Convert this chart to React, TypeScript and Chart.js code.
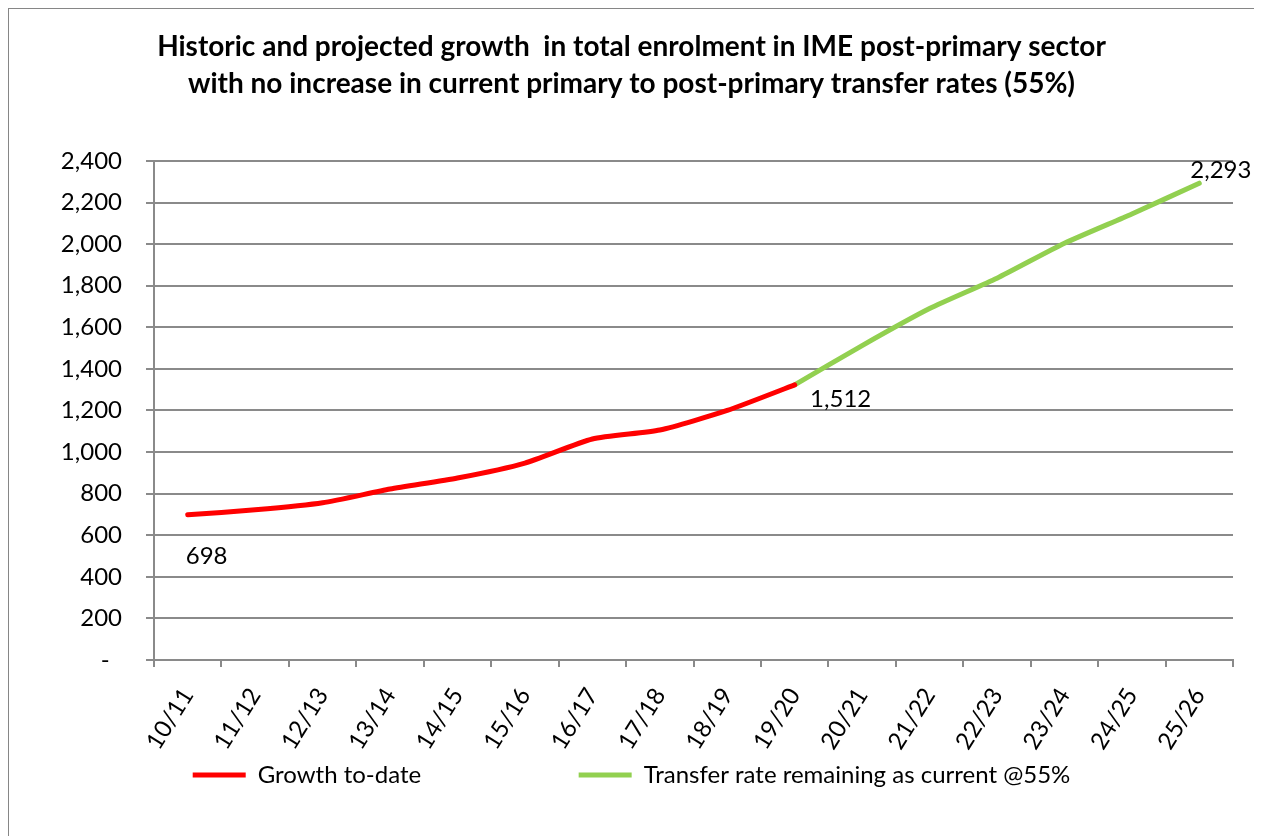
import React, { useEffect, useRef } from "react";
import { Chart, registerables } from "chart.js";

Chart.register(...registerables);

const categories = [
  "10/11", "11/12", "12/13", "13/14", "14/15", "15/16", "16/17", "17/18",
  "18/19", "19/20", "20/21", "21/22", "22/23", "23/24", "24/25", "25/26",
];

const growthToDate = [698, 722, 756, 822, 875, 947, 1063, 1106, 1200, 1323, null, null, null, null, null, null];
const transferRateCurrent = [null, null, null, null, null, null, null, null, null, 1323, 1512, 1690, 1836, 2004, 2145, 2293];

const seriesNames = ["Growth to-date", "Transfer rate remaining as current @55%"];
const titleLines = [
  "Historic and projected growth  in total enrolment in IME post-primary sector",
  "with no increase in current primary to post-primary transfer rates (55%)",
];
const yTicks = { min: 0, max: 2400, step: 200 };

const FONT = "Lato";
const GRID = "#8a8a8a";

const labelSpecs = [
  { ds: 0, idx: 0, dx: -2, dy: 41 },
  { ds: 1, idx: 10, dx: -52, dy: 54 },
  { ds: 1, idx: 15, dx: -9, dy: -13 },
];

const dataLabelPlugin = {
  id: "dataLabelPlugin",
  afterDatasetsDraw(chart: any) {
    const ctx = chart.ctx;
    ctx.save();
    ctx.font = `24px ${FONT}`;
    ctx.fillStyle = "#000";
    ctx.textAlign = "left";
    ctx.textBaseline = "middle";
    for (const s of labelSpecs) {
      const meta = chart.getDatasetMeta(s.ds);
      const pt = meta.data[s.idx];
      const v = chart.data.datasets[s.ds].data[s.idx];
      if (!pt || v == null) continue;
      ctx.fillText(Number(v).toLocaleString("en-US"), pt.x + s.dx, pt.y + s.dy);
    }
    ctx.restore();
  },
};

export default function App() {
  const ref = useRef<HTMLCanvasElement | null>(null);
  useEffect(() => {
    if (!ref.current) return;
    const chart = new Chart(ref.current, {
      type: "line",
      data: {
        labels: categories,
        datasets: [
          {
            label: seriesNames[0] + " ".repeat(24),
            data: growthToDate,
            borderColor: "#ff0000",
            backgroundColor: "#ff0000",
            borderWidth: 5,
            borderCapStyle: "round",
            borderJoinStyle: "round",
            pointRadius: 0,
            tension: 0.2,
            spanGaps: false,
          },
          {
            label: seriesNames[1],
            data: transferRateCurrent,
            borderColor: "#92d050",
            backgroundColor: "#92d050",
            borderWidth: 5,
            borderCapStyle: "round",
            borderJoinStyle: "round",
            pointRadius: 0,
            tension: 0.2,
            spanGaps: false,
          },
        ],
      },
      options: {
        responsive: false,
        animation: false,
        devicePixelRatio: 1,
        layout: { padding: { left: 0, right: 0, top: 0, bottom: 39 } },
        plugins: {
          title: {
            display: true,
            text: titleLines,
            color: "#000",
            font: { family: FONT, size: 28, weight: "bold", lineHeight: 1.32 },
            padding: { top: 19.5, bottom: 58.5 },
          },
          legend: {
            position: "bottom",
            labels: {
              usePointStyle: true,
              pointStyle: "line",
              pointStyleWidth: 53,
              color: "#000",
              font: { family: FONT, size: 24 },
              padding: 10,
            },
          },
          tooltip: { enabled: false },
        },
        scales: {
          x: {
            type: "category",
            offset: true,
            grid: {
              offset: true,
              drawOnChartArea: false,
              drawTicks: true,
              tickLength: 7,
              color: GRID,
              lineWidth: 2,
            },
            border: { display: true, color: GRID, width: 2 },
            ticks: {
              minRotation: 58,
              maxRotation: 58,
              autoSkip: false,
              padding: 16,
              color: "#000",
              font: { family: FONT, size: 24 },
            },
            afterFit: (s: any) => {
              s.height = 93;
            },
          },
          y: {
            min: yTicks.min,
            max: yTicks.max,
            grid: { color: GRID, lineWidth: 2, tickLength: 8, drawTicks: true },
            border: { display: true, color: GRID, width: 2 },
            ticks: {
              stepSize: yTicks.step,
              padding: 24,
              color: "#000",
              font: { family: FONT, size: 24 },
              callback: (v: any) => (Number(v) === 0 ? "-  " : Number(v).toLocaleString("en-US")),
            },
            afterFit: (s: any) => {
              s.width = 145;
            },
          },
          yRightSpace: {
            position: "right",
            display: true,
            min: yTicks.min,
            max: yTicks.max,
            grid: { drawOnChartArea: false, drawTicks: false, display: false },
            border: { display: false },
            ticks: { display: false },
            afterFit: (s: any) => {
              s.width = 21;
            },
          },
        },
      },
      plugins: [dataLabelPlugin],
    });
    return () => chart.destroy();
  }, []);

  return (
    <div
      style={{
        width: 1245,
        height: 827,
        borderTop: "1px solid #868686",
        borderLeft: "1px solid #868686",
        borderRight: "1px solid #868686",
        background: "#fff",
      }}
    >
      <canvas ref={ref} width={1245} height={827} style={{ display: "block" }} />
    </div>
  );
}
